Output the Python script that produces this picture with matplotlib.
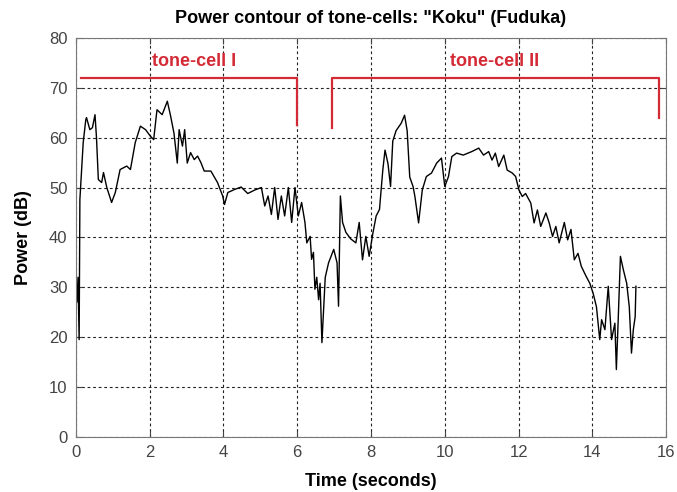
import matplotlib
matplotlib.use("Agg")
import matplotlib.pyplot as plt

plt.rcParams['font.family'] = ['Liberation Sans', 'DejaVu Sans']

# power contour (time in s, power in dB)
time_s = [0.0, 0.03, 0.06, 0.09, 0.11, 0.2, 0.27, 0.29, 0.38, 0.45, 0.52, 0.56, 0.61, 0.70, 0.75,
          0.84, 0.97, 1.07, 1.2, 1.38, 1.48, 1.61, 1.75, 1.89, 2.02, 2.11, 2.2, 2.34, 2.48,
          2.57, 2.66, 2.75, 2.8, 2.89, 2.95, 3.02, 3.11, 3.21, 3.3, 3.39, 3.48, 3.66, 3.84,
          3.98, 4.03, 4.12, 4.3, 4.48, 4.66, 4.85, 5.03, 5.12, 5.21, 5.3, 5.39, 5.48, 5.57,
          5.66, 5.76, 5.85, 5.94, 6.03, 6.12, 6.21, 6.26, 6.35, 6.39, 6.44, 6.48, 6.53, 6.58,
          6.62, 6.67, 6.76, 6.85, 6.99, 7.08, 7.12, 7.17, 7.23, 7.32, 7.45, 7.59, 7.68, 7.77,
          7.86, 7.95, 8.05, 8.14, 8.23, 8.32, 8.38, 8.46, 8.53, 8.59, 8.68, 8.82, 8.91, 8.98,
          9.05, 9.14, 9.19, 9.29, 9.39, 9.5, 9.64, 9.78, 9.91, 10.0, 10.1, 10.19, 10.32, 10.5,
          10.73, 10.92, 11.05, 11.19, 11.28, 11.37, 11.46, 11.6, 11.69, 11.83, 11.92, 12.01,
          12.1, 12.19, 12.33, 12.42, 12.51, 12.6, 12.74, 12.83, 12.92, 13.01, 13.1, 13.24,
          13.33, 13.42, 13.51, 13.61, 13.7, 13.83, 13.93, 14.02, 14.11, 14.2, 14.25, 14.34,
          14.43, 14.52, 14.61, 14.65, 14.7, 14.76, 14.84, 14.93, 15.0, 15.06, 15.11, 15.16,
          15.18]
power_db = [30, 27, 32, 19.5, 47.6, 59, 63.6, 64, 61.6, 62, 64.6, 60, 51.6, 51, 53,
            50, 47, 49, 53.6, 54.3, 53.6, 59, 62.3, 61.6, 60.3, 59.6, 65.6, 64.6, 67.3,
            64.3, 60.9, 54.9, 61.6, 58.3, 61.6, 54.9, 57, 55.6, 56.3, 55, 53.3, 53.3, 51,
            48.3, 46.6, 49, 49.6, 50.1, 48.8, 49.5, 50, 46.3, 48.3, 44.6, 50, 43.6, 48.3,
            44.3, 50, 43, 50, 44.3, 47, 43, 38.9, 40.2, 35.6, 37, 29.6, 32, 27.5,
            30.8, 18.9, 32, 34.9, 37.6, 34.9, 26.2, 48.3, 43, 41, 39.7, 38.9, 43, 35.5,
            40.2, 36.2, 40.8, 44.3, 45.6, 53.5, 57.5, 54.8, 50.2, 59.3, 61.4, 62.9, 64.5, 61.4,
            52.1, 50.2, 48.2, 42.9, 49.5, 52.2, 52.9, 54.9, 55.9, 50.2, 52.2, 56.2, 56.9, 56.5,
            57.2, 57.9, 56.5, 57.2, 55.5, 56.9, 54.2, 56.5, 53.5, 52.9, 52.2, 49.5,
            48.2, 48.8, 46.9, 42.9, 45.5, 42.2, 44.9, 42.9, 40.2, 42.2, 38.9, 43,
            39.5, 41.6, 35.5, 36.8, 34.2, 32.2, 30.8, 28.8, 26.1, 19.5, 23.5, 21.5,
            30.2, 19.5, 22.8, 13.5, 23.5, 36.2, 33.5, 30.8, 26.1, 16.8, 21.5, 24.1,
            30.2]

# tone-cell segments
cell_names = ["tone-cell I", "tone-cell II"]
cell_start = [0.15, 6.95]
cell_end = [6.0, 15.8]
cell_low_left = [None, 62]
cell_low_right = [62.5, 64]
bracket_y = 72

red = "#d42a36"

fig = plt.figure(figsize=(6.77, 4.92), dpi=100)
ax = fig.add_axes([0.112, 0.112, 0.872, 0.811])

ax.plot(time_s, power_db, color="black", linewidth=1.0)

for name, s, e, lo_l, lo_r in zip(cell_names, cell_start, cell_end, cell_low_left, cell_low_right):
    xs = [s, e, e]
    ys = [bracket_y, bracket_y, lo_r]
    if lo_l is not None:
        xs = [s] + xs
        ys = [lo_l] + ys
    ax.plot(xs, ys, color=red, linewidth=1.6)

ax.text(3.2, 75.3, cell_names[0], color=red, fontsize=13, fontweight="bold", ha="center", va="center")
ax.text(11.35, 75.3, cell_names[1], color=red, fontsize=13, fontweight="bold", ha="center", va="center")

ax.set_xlim(0, 16)
ax.set_ylim(0, 80)
ax.set_xticks(range(0, 17, 2))
ax.set_yticks(range(0, 81, 10))
ax.grid(True, linestyle=(0, (2.5, 2.5)), color="#222222", linewidth=0.8)
ax.tick_params(labelsize=12, colors="#444444", direction="in", length=4, top=True, right=True, pad=6)
for sp in ax.spines.values():
    sp.set_color("#777777")

ax.set_title('Power contour of tone-cells: "Koku" (Fuduka)', fontsize=13, fontweight="bold", pad=11)
ax.set_xlabel("Time (seconds)", fontsize=13, fontweight="bold", labelpad=9)
ax.set_ylabel("Power (dB)", fontsize=13, fontweight="bold", labelpad=12)

fig.savefig("out.png", dpi=100)
